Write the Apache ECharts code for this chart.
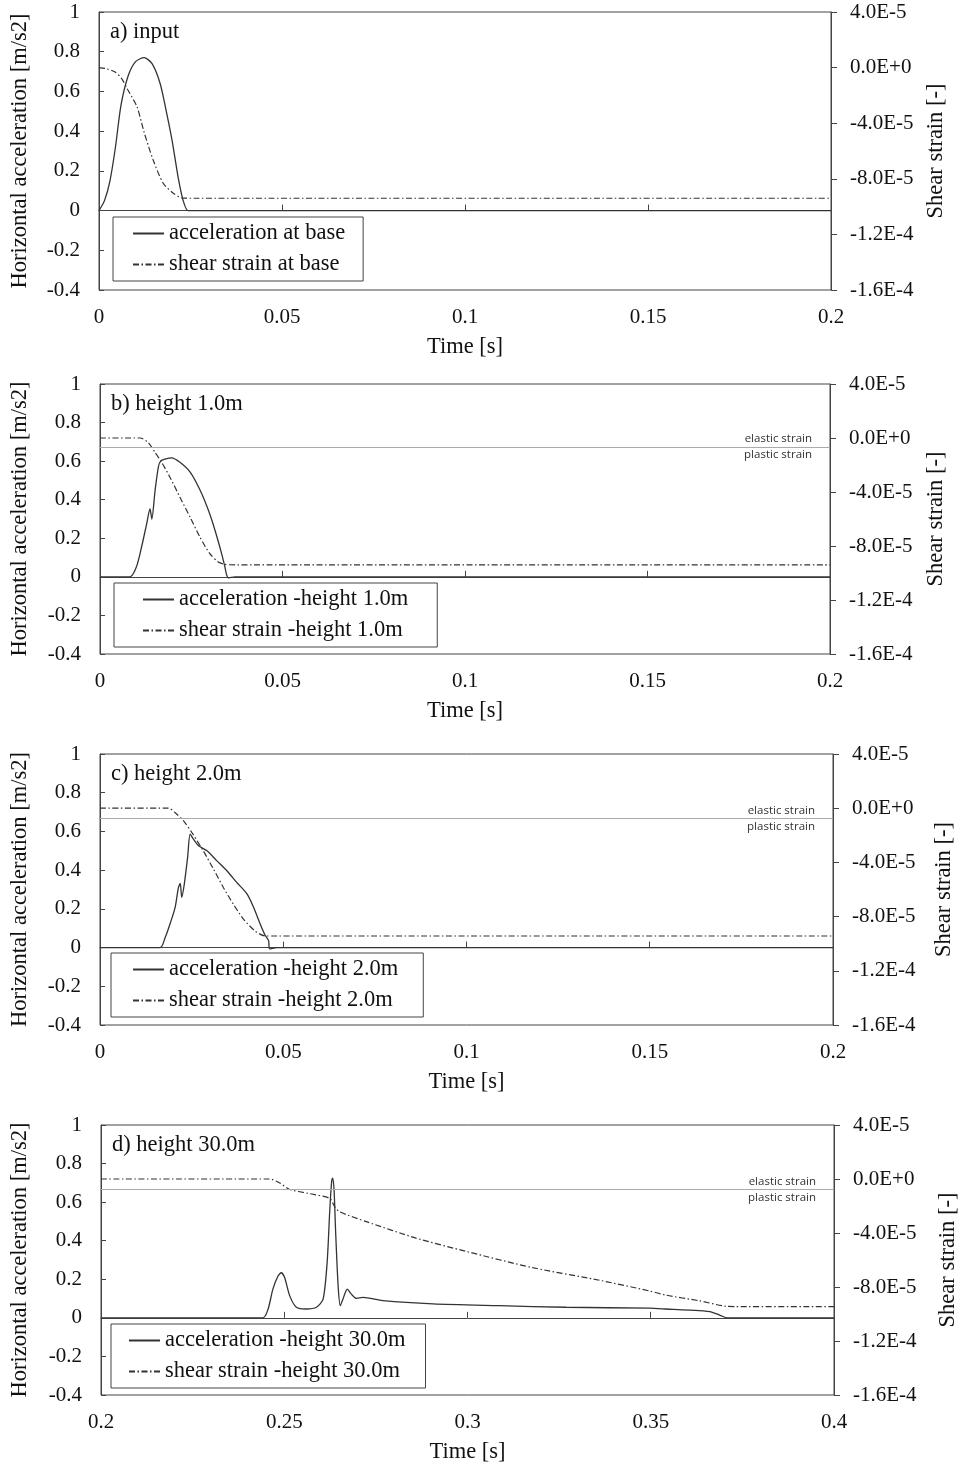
<!DOCTYPE html>
<html>
<head>
<meta charset="utf-8">
<script src="https://cdn.jsdelivr.net/npm/echarts@6/dist/echarts.min.js"></script>
<style>
  html, body { margin: 0; background: #fff; }
  #chart { width: 968px; height: 1465px; }
</style>
</head>
<body>
<div id="chart"></div>
<script>
// ---- data: [time s, value] ----
const accA = [[0, 0], [0.0015, 0.05], [0.003, 0.15], [0.0045, 0.32], [0.006, 0.53], [0.008, 0.68], [0.010, 0.75],
  [0.0123, 0.77], [0.0145, 0.74], [0.0167, 0.64], [0.0185, 0.49], [0.020, 0.35], [0.0216, 0.17], [0.023, 0.05],
  [0.0243, 0], [0.027, 0], [0.2, 0]];
const strainA = [[0, 0], [0.002, -0.8e-6], [0.0044, -3.2e-6], [0.0062, -8e-6], [0.0079, -1.61e-5], [0.0104, -2.83e-5],
  [0.0123, -4.63e-5], [0.0148, -6.65e-5], [0.0175, -8.3e-5], [0.0202, -9.02e-5], [0.0227, -9.38e-5], [0.026, -9.4e-5],
  [0.2, -9.4e-5]];

const accB = [[0, 0], [0.0082, 0], [0.0100, 0.053], [0.0114, 0.156], [0.0128, 0.276], [0.0137, 0.354], [0.0142, 0.30],
  [0.0151, 0.45], [0.0160, 0.57], [0.0166, 0.60], [0.0178, 0.61], [0.0196, 0.617], [0.0219, 0.594], [0.0247, 0.543],
  [0.0274, 0.45], [0.0297, 0.345], [0.0315, 0.242], [0.0333, 0.122], [0.0342, 0.053], [0.0347, 0.01],
  [0.0352, -0.005], [0.037, 0], [0.2, 0]];
const strainB = [[0, 0], [0.011, 0], [0.0132, -3.3e-6], [0.0151, -1.07e-5], [0.0169, -1.81e-5], [0.0192, -2.92e-5],
  [0.0219, -4.39e-5], [0.0247, -5.87e-5], [0.0274, -7.35e-5], [0.0301, -8.57e-5], [0.0324, -9.19e-5],
  [0.0342, -9.36e-5], [0.037, -9.4e-5], [0.2, -9.4e-5]];

const accC = [[0, 0], [0.0164, 0], [0.0178, 0.053], [0.0191, 0.122], [0.0205, 0.208], [0.0214, 0.31], [0.0219, 0.331],
  [0.0223, 0.26], [0.0230, 0.328], [0.0239, 0.465], [0.0246, 0.586], [0.0255, 0.56], [0.0269, 0.526], [0.0292, 0.50],
  [0.0319, 0.448], [0.0346, 0.397], [0.0373, 0.337], [0.0401, 0.277], [0.0419, 0.208], [0.0437, 0.122],
  [0.0451, 0.062], [0.046, 0.036], [0.0463, -0.007], [0.0483, 0], [0.2, 0]];
const strainC = [[0, 0], [0.0187, 0], [0.0205, -3.3e-6], [0.0228, -9.4e-6], [0.0251, -1.81e-5], [0.0282, -3.16e-5],
  [0.031, -4.51e-5], [0.0337, -5.87e-5], [0.0364, -7.09e-5], [0.0392, -8.2e-5], [0.0423, -9.06e-5],
  [0.0451, -9.43e-5], [0.048, -9.43e-5], [0.2, -9.43e-5]];

const accD = [[0.2, 0], [0.2442, 0], [0.2456, 0.046], [0.2469, 0.149], [0.2483, 0.217], [0.2492, 0.234], [0.2501, 0.209],
  [0.2515, 0.114], [0.2533, 0.055], [0.256, 0.046], [0.2588, 0.055], [0.2606, 0.097], [0.2617, 0.286], [0.2624, 0.55],
  [0.2629, 0.70], [0.2632, 0.725], [0.2636, 0.66], [0.264, 0.456], [0.2647, 0.166], [0.2653, 0.063], [0.266, 0.097],
  [0.2672, 0.149], [0.2683, 0.123], [0.2697, 0.101], [0.2715, 0.106], [0.2769, 0.089], [0.2906, 0.072],
  [0.3087, 0.063], [0.3269, 0.055], [0.3496, 0.05], [0.3541, 0.046], [0.3632, 0.037], [0.3668, 0.029],
  [0.3691, 0.012], [0.3709, 0], [0.373, 0], [0.4, 0]];
const strainD = [[0.2, 0], [0.246, 0], [0.2488, -3e-6], [0.2515, -7.8e-6], [0.2569, -1.08e-5], [0.2624, -1.44e-5],
  [0.2638, -2.06e-5], [0.2651, -2.43e-5], [0.2724, -3.16e-5], [0.286, -4.38e-5], [0.2996, -5.36e-5],
  [0.3178, -6.57e-5], [0.336, -7.5e-5], [0.3496, -8.29e-5], [0.3541, -8.6e-5], [0.3632, -9.02e-5],
  [0.3705, -9.43e-5], [0.373, -9.45e-5], [0.4, -9.45e-5]];

const accSeries = [accA, accB, accC, accD];
const strainSeries = [strainA, strainB, strainC, strainD];
const accNames = ['acceleration at base', 'acceleration -height 1.0m', 'acceleration -height 2.0m', 'acceleration -height 30.0m'];
const strainNames = ['shear strain at base', 'shear strain -height 1.0m', 'shear strain -height 2.0m', 'shear strain -height 30.0m'];
const panelTitles = ['a) input', 'b) height 1.0m', 'c) height 2.0m', 'd) height 30.0m'];
const elasticLimit = [null, -6.5e-6, -7.4e-6, -7.6e-6];
const timeRange = [[0, 0.2], [0, 0.2], [0, 0.2], [0.2, 0.4]];
const timeStep = 0.05;
const accRange = [-0.4, 1], accStep = 0.2;
const strainRange = [-1.6e-4, 4e-5], strainStep = 4e-5;

// ---- layout (px) ----
const panels = [
  { left: 99, top: 12, width: 732, height: 278, lGap: 67, rGap: 89, leg: { left: 113, top: 217, padding: [5, 18, 5, 19] } },
  { left: 100, top: 384, width: 730, height: 270, lGap: 68, rGap: 95, leg: { left: 114, top: 583, padding: [5, 29, 5, 28] } },
  { left: 100, top: 754, width: 733, height: 271, lGap: 68, rGap: 100, leg: { left: 111, top: 953, padding: [5, 25, 5, 21] } },
  { left: 101, top: 1125, width: 734, height: 272, lGap: 69, rGap: 103, leg: { left: 111, top: 1324, padding: [5, 20, 5, 17] } }
];

const SERIF = '"Liberation Serif", "Times New Roman", serif';
const INK = '#333';
const AXIS = '#444';

const fmtStrain = v => {
  const r = Math.round(v * 1e7) / 1e7;
  return Math.abs(r) < 1e-9 ? '0.0E+0' : r.toExponential(1).toUpperCase();
};

const chart = echarts.init(document.getElementById('chart'), null, { renderer: 'canvas' });

const grid = [], xAxis = [], yAxis = [], series = [], legend = [], title = [];
panels.forEach((p, i) => {
  grid.push({ left: p.left, top: p.top, width: p.width, height: p.height, show: true,
    borderColor: AXIS, borderWidth: 1, backgroundColor: 'transparent' });

  xAxis.push({
    type: 'value', gridIndex: i, min: timeRange[i][0], max: timeRange[i][1], interval: timeStep,
    name: 'Time [s]', nameLocation: 'middle', nameGap: 46,
    nameTextStyle: { fontFamily: SERIF, fontSize: 22.5, color: '#111' },
    axisLine: { show: true, lineStyle: { color: AXIS } },
    axisTick: { show: true, inside: true, length: 6, lineStyle: { color: AXIS } },
    axisLabel: { fontFamily: SERIF, fontSize: 21, color: '#111', margin: 17 },
    splitLine: { show: false }
  });

  yAxis.push({
    type: 'value', gridIndex: i, min: accRange[0], max: accRange[1], interval: accStep, position: 'left',
    name: 'Horizontal acceleration [m/s2]', nameLocation: 'middle', nameGap: p.lGap,
    nameTextStyle: { fontFamily: SERIF, fontSize: 22.5, color: '#111' },
    axisLine: { show: true, lineStyle: { color: AXIS } },
    axisTick: { show: true, inside: true, length: 5, lineStyle: { color: AXIS } },
    axisLabel: { fontFamily: SERIF, fontSize: 21, color: '#111', margin: 19 },
    splitLine: { show: false }
  });
  yAxis.push({
    type: 'value', gridIndex: i, min: strainRange[0], max: strainRange[1], interval: strainStep, position: 'right',
    name: 'Shear strain [-]', nameLocation: 'middle', nameGap: p.rGap,
    nameTextStyle: { fontFamily: SERIF, fontSize: 22.5, color: '#111' },
    axisLine: { show: true, lineStyle: { color: AXIS } },
    axisTick: { show: true, inside: false, length: 6, lineStyle: { color: AXIS } },
    axisLabel: { fontFamily: SERIF, fontSize: 21, color: '#111', margin: 19, formatter: fmtStrain },
    splitLine: { show: false }
  });

  series.push({
    name: accNames[i], type: 'line', xAxisIndex: i, yAxisIndex: 2 * i,
    data: accSeries[i], symbol: 'none', smooth: 0.25,
    lineStyle: { color: INK, width: 1.3 }, itemStyle: { color: INK }, z: 3
  });

  const strain = {
    name: strainNames[i], type: 'line', xAxisIndex: i, yAxisIndex: 2 * i + 1,
    data: strainSeries[i], symbol: 'none', smooth: 0.25,
    lineStyle: { color: INK, width: 1.2, type: [6, 2.5, 1.5, 2.5] }, itemStyle: { color: INK }, z: 2
  };
  if (elasticLimit[i] !== null) {
    const lbl = { color: '#333', fontFamily: '"Open Sans", "Noto Sans", sans-serif', fontSize: 11.5, distance: [18, 2] };
    strain.markLine = {
      silent: true, symbol: 'none', animation: false, precision: 10,
      lineStyle: { color: '#aaa', width: 1, type: 'solid' },
      data: [
        { yAxis: elasticLimit[i], label: { ...lbl, formatter: 'elastic strain', position: 'insideEndTop' } },
        { yAxis: elasticLimit[i], label: { ...lbl, formatter: 'plastic strain', position: 'insideEndBottom' } }
      ]
    };
  }
  series.push(strain);

  legend.push({
    data: [accNames[i], strainNames[i]], orient: 'vertical', left: p.leg.left, top: p.leg.top,
    padding: p.leg.padding, itemGap: 8, itemWidth: 31, itemHeight: 14,
    backgroundColor: '#fff', borderColor: AXIS, borderWidth: 1, borderRadius: 0,
    selectedMode: false,
    itemStyle: { color: 'transparent', borderColor: 'transparent', borderWidth: 0, opacity: 0 },
    textStyle: { fontFamily: SERIF, fontSize: 22.5, color: '#111', lineHeight: 20 }
  });

  title.push({
    text: panelTitles[i], left: p.left + 11, top: p.top + 9, padding: 0,
    textStyle: { fontFamily: SERIF, fontSize: 22.5, fontWeight: 'normal', color: '#111' }
  });
});

chart.setOption({ animation: false, backgroundColor: '#fff', title, grid, xAxis, yAxis, legend, series });
</script>
</body>
</html>
